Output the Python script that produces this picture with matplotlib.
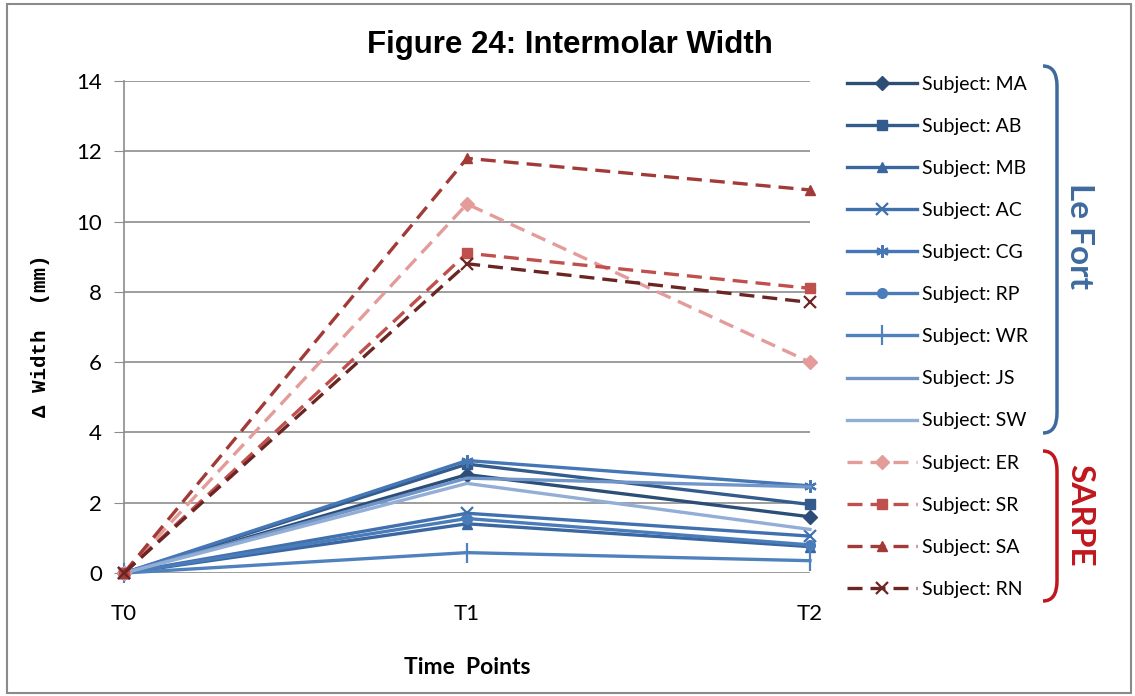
import matplotlib.pyplot as plt
from matplotlib.patches import Rectangle, PathPatch
from matplotlib.path import Path

# Time points and per-subject change in intermolar width (mm)
time_points = ['T0', 'T1', 'T2']

lefort_subjects = ['MA', 'AB', 'MB', 'AC', 'CG', 'RP', 'WR', 'JS', 'SW']
lefort_values = [
    [0, 2.8, 1.6],
    [0, 3.1, 1.95],
    [0, 1.4, 0.75],
    [0, 1.7, 1.05],
    [0, 3.2, 2.48],
    [0, 1.55, 0.8],
    [0, 0.58, 0.35],
    [0, 2.7, 2.45],
    [0, 2.55, 1.24],
]

sarpe_subjects = ['ER', 'SR', 'SA', 'RN']
sarpe_values = [
    [0, 10.5, 6.0],
    [0, 9.1, 8.1],
    [0, 11.8, 10.9],
    [0, 8.8, 7.7],
]

lefort_colors = ['#2C4D75', '#335B8C', '#3A67A0', '#4070AE', '#4576B6',
                 '#4A7CBA', '#4F81BD', '#7095C8', '#93AED6']
lefort_markers = ['D', 's', '^', 'x', (6, 2, 0), 'o', '|', 'None', 'None']
sarpe_colors = ['#E39C9A', '#C0504D', '#A23A37', '#6B2523']
sarpe_markers = ['D', 's', '^', 'x']

plt.rcParams['font.family'] = ['Lato', 'DejaVu Sans']

fig = plt.figure(figsize=(11.35, 6.96), dpi=100)
ax = fig.add_axes([124 / 1135, 1 - 573 / 696, 686 / 1135, 492 / 696])

x = list(range(len(time_points)))
handles = []
for name, vals, c, m in zip(lefort_subjects, lefort_values, lefort_colors, lefort_markers):
    ms = 7
    if m == 'x' or m == (6, 2, 0):
        ms = 9
    if m == '|':
        ms = 14
    h, = ax.plot(x, vals, color=c, lw=2.4, marker=m, markersize=ms,
                 markeredgewidth=1.6 if m in ('x', '|', (6, 2, 0)) else 1,
                 markeredgecolor=c, markerfacecolor=c,
                 label=f'Subject: {name}', clip_on=False, zorder=3)
    handles.append(h)

for name, vals, c, m in zip(sarpe_subjects, sarpe_values, sarpe_colors, sarpe_markers):
    ms = 9 if m == 'x' else 7
    h, = ax.plot(x, vals, color=c, lw=2.4, ls=(0, (4.5, 2.4)), marker=m, markersize=ms,
                 markeredgewidth=1.6 if m == 'x' else 1,
                 markeredgecolor=c, markerfacecolor=c,
                 label=f'Subject: {name}', clip_on=False, zorder=4)
    handles.append(h)

ax.set_xlim(0, 2)
ax.set_ylim(0, 14)
ax.set_yticks(range(0, 15, 2))
ax.set_xticks(x)
ax.set_xticklabels(time_points)
ax.yaxis.grid(True, color='#8C8C8C', lw=1.2)
ax.set_axisbelow(True)
for s in ['top', 'right', 'bottom']:
    ax.spines[s].set_visible(False)
ax.spines['left'].set_color('#8C8C8C')
ax.spines['left'].set_linewidth(1.2)
ax.tick_params(axis='y', length=7, color='#8C8C8C', labelsize=16, pad=9)
ax.tick_params(axis='x', length=0, labelsize=16, pad=22)

fig.text(467 / 1135, 1 - 668 / 696, 'Time  Points', ha='center', va='center',
         fontsize=16.5, fontweight='bold')
fig.text(40 / 1135, 1 - 336 / 696, '\u0394 Width  (mm)', ha='center', va='center',
         rotation=90, fontsize=15, fontweight='bold',
         family=['Liberation Mono', 'DejaVu Sans Mono'])

fig.text(570 / 1135, 1 - 45 / 696, 'Figure 24: Intermolar Width', ha='center', va='center',
         fontsize=22.5, fontweight='bold', family=['Liberation Sans', 'DejaVu Sans'])

fig.legend(handles=handles, loc='upper left', bbox_to_anchor=(839 / 1135, 1 - 68 / 696),
           frameon=False, fontsize=14, handlelength=3.6, handletextpad=0.25,
           labelspacing=1.29, borderaxespad=0)

# Group brackets on the right side
def bracket(y_top, y_bot, color):
    x0, x1 = 1043 / 1135, 1057 / 1135
    yt, yb = 1 - y_top / 696, 1 - y_bot / 696
    r = 20 / 696
    verts = [(x0, yt), (x1, yt), (x1, yt - r), (x1, yb + r), (x1, yb), (x0, yb)]
    codes = [Path.MOVETO, Path.CURVE3, Path.CURVE3, Path.LINETO, Path.CURVE3, Path.CURVE3]
    fig.patches.append(PathPatch(Path(verts, codes), transform=fig.transFigure,
                                 fill=False, edgecolor=color, lw=2.5))

bracket(66, 433, '#3F6A9E')
bracket(451, 601, '#C0171E')
fig.text(1080 / 1135, 1 - 236 / 696, 'Le Fort', rotation=-90, ha='center', va='center',
         fontsize=24, fontweight='bold', color='#3F6A9E')
fig.text(1080 / 1135, 1 - 515 / 696, 'SARPE', rotation=-90, ha='center', va='center',
         fontsize=24, fontweight='bold', color='#C0171E')

# Chart frame
fig.patches.append(Rectangle((7 / 1135, 3 / 696), 1124 / 1135, 689 / 696,
                             transform=fig.transFigure, fill=False,
                             edgecolor='#8A8A8A', lw=1.5))

fig.savefig('out.png', dpi=100)
